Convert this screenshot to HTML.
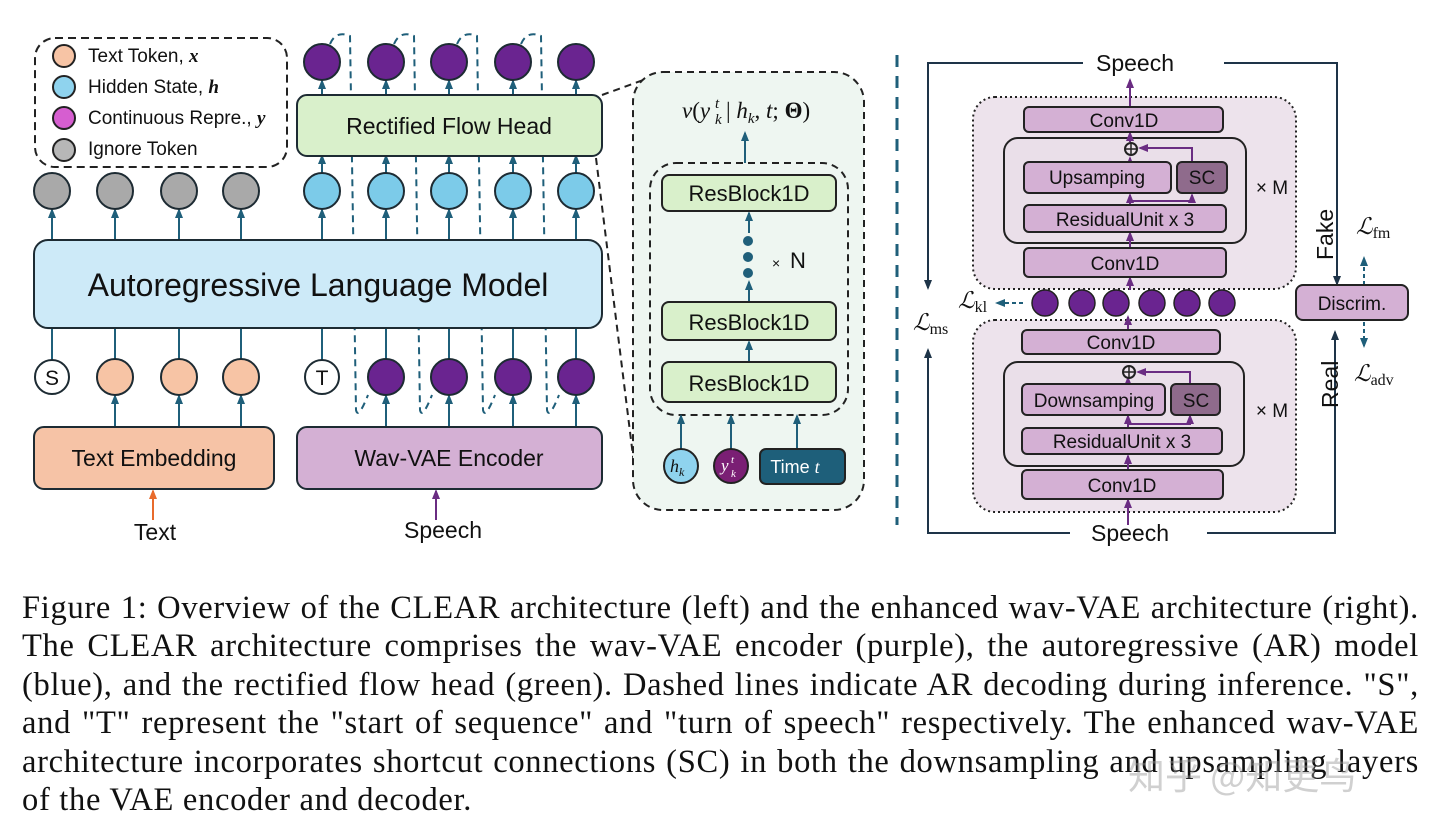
<!DOCTYPE html>
<html><head><meta charset="utf-8"><style>
html,body{margin:0;padding:0;background:#fff;width:1440px;height:836px;overflow:hidden}
svg{position:absolute;left:0;top:0}
.cap{position:absolute;left:22px;top:589px;width:1397px;font-family:"Liberation Serif",serif;font-size:32.5px;letter-spacing:0.7px;line-height:38.4px;color:#111}
.cap div{text-align:justify;text-align-last:justify;white-space:nowrap}
.cap div.l{text-align-last:left}
.wm{position:absolute;left:1128px;top:746px;font-family:"Noto Sans CJK SC","Liberation Sans",sans-serif;font-size:37px;color:rgba(150,150,150,0.45)}
</style></head><body>
<svg width="1440" height="580" viewBox="0 0 1440 580" font-family="Liberation Sans, sans-serif">
<defs>
<marker id="a" viewBox="0 0 10 10" refX="8" refY="5" markerWidth="5" markerHeight="5" orient="auto"><path d="M0,1 L10,5 L0,9z" fill="#1f5f7a"/></marker>
<marker id="p" viewBox="0 0 10 10" refX="8" refY="5" markerWidth="5" markerHeight="5" orient="auto"><path d="M0,1 L10,5 L0,9z" fill="#6a2c82"/></marker>
<marker id="k" viewBox="0 0 10 10" refX="8" refY="5" markerWidth="5" markerHeight="5" orient="auto"><path d="M0,1 L10,5 L0,9z" fill="#1e3448"/></marker>
<marker id="o" viewBox="0 0 10 10" refX="8" refY="5" markerWidth="5" markerHeight="5" orient="auto"><path d="M0,1 L10,5 L0,9z" fill="#e86b2c"/></marker>
</defs>
<rect x="35" y="38" width="252" height="129" rx="20" fill="none" stroke="#222" stroke-width="2" stroke-dasharray="8,5"/>
<g stroke="#222" stroke-width="2">
<circle cx="64" cy="56" r="11" fill="#f7c4a5"/><circle cx="64" cy="87" r="11" fill="#8fd3ee"/>
<circle cx="64" cy="118" r="11" fill="#d65ed0"/><circle cx="64" cy="150" r="11" fill="#b7b7b7"/></g>
<g font-size="19" fill="#111"><text x="88" y="62">Text Token, <tspan font-family="Liberation Serif" font-style="italic" font-weight="bold">x</tspan></text>
<text x="88" y="93">Hidden State, <tspan font-family="Liberation Serif" font-style="italic" font-weight="bold">h</tspan></text>
<text x="88" y="124">Continuous Repre., <tspan font-family="Liberation Serif" font-style="italic" font-weight="bold">y</tspan></text>
<text x="88" y="155">Ignore Token</text></g>
<g fill="none" stroke="#1f5f7a" stroke-width="2" stroke-dasharray="7,5">
<path d="M330,44 Q336,30 350,36 L356,410 Q358,420 368,395"/>
<path d="M394,44 Q400,30 414,36 L420,410 Q422,420 432,395"/>
<path d="M457,44 Q463,30 477,36 L483,410 Q485,420 495,395"/>
<path d="M521,44 Q527,30 541,36 L547,410 Q549,420 559,395"/>
</g>
<g stroke="#1f5f7a" stroke-width="2" marker-end="url(#a)">
<line x1="52" y1="240" x2="52" y2="210"/><line x1="115" y1="240" x2="115" y2="210"/><line x1="179" y1="240" x2="179" y2="210"/><line x1="241" y1="240" x2="241" y2="210"/>
<line x1="322" y1="240" x2="322" y2="210"/><line x1="386" y1="240" x2="386" y2="210"/><line x1="449" y1="240" x2="449" y2="210"/><line x1="513" y1="240" x2="513" y2="210"/><line x1="576" y1="240" x2="576" y2="210"/>
<line x1="322" y1="173" x2="322" y2="156"/><line x1="386" y1="173" x2="386" y2="156"/><line x1="449" y1="173" x2="449" y2="156"/><line x1="513" y1="173" x2="513" y2="156"/><line x1="576" y1="173" x2="576" y2="156"/>
<line x1="322" y1="95" x2="322" y2="81"/><line x1="386" y1="95" x2="386" y2="81"/><line x1="449" y1="95" x2="449" y2="81"/><line x1="513" y1="95" x2="513" y2="81"/><line x1="576" y1="95" x2="576" y2="81"/>
<line x1="115" y1="427" x2="115" y2="396"/><line x1="179" y1="427" x2="179" y2="396"/><line x1="241" y1="427" x2="241" y2="396"/>
<line x1="386" y1="427" x2="386" y2="396"/><line x1="449" y1="427" x2="449" y2="396"/><line x1="513" y1="427" x2="513" y2="396"/><line x1="576" y1="427" x2="576" y2="396"/>
</g>
<g stroke="#1f5f7a" stroke-width="2"><line x1="52" y1="328" x2="52" y2="360"/><line x1="115" y1="328" x2="115" y2="360"/><line x1="179" y1="328" x2="179" y2="360"/><line x1="241" y1="328" x2="241" y2="360"/><line x1="322" y1="328" x2="322" y2="360"/><line x1="386" y1="328" x2="386" y2="360"/><line x1="449" y1="328" x2="449" y2="360"/><line x1="513" y1="328" x2="513" y2="360"/><line x1="576" y1="328" x2="576" y2="360"/></g>
<line x1="153" y1="520" x2="153" y2="491" stroke="#e86b2c" stroke-width="2" marker-end="url(#o)"/>
<line x1="436" y1="520" x2="436" y2="491" stroke="#6a2c82" stroke-width="2" marker-end="url(#p)"/>
<g stroke="#1d2b33" stroke-width="2">
<circle cx="322" cy="62" r="18" fill="#6a2490"/><circle cx="386" cy="62" r="18" fill="#6a2490"/><circle cx="449" cy="62" r="18" fill="#6a2490"/><circle cx="513" cy="62" r="18" fill="#6a2490"/><circle cx="576" cy="62" r="18" fill="#6a2490"/>
<rect x="297" y="95" width="305" height="61" rx="10" fill="#d9f0cb"/>
<circle cx="52" cy="191" r="18" fill="#a9a9a9"/><circle cx="115" cy="191" r="18" fill="#a9a9a9"/><circle cx="179" cy="191" r="18" fill="#a9a9a9"/><circle cx="241" cy="191" r="18" fill="#a9a9a9"/>
<circle cx="322" cy="191" r="18" fill="#7ccbe9"/><circle cx="386" cy="191" r="18" fill="#7ccbe9"/><circle cx="449" cy="191" r="18" fill="#7ccbe9"/><circle cx="513" cy="191" r="18" fill="#7ccbe9"/><circle cx="576" cy="191" r="18" fill="#7ccbe9"/>
<rect x="34" y="240" width="568" height="88" rx="14" fill="#cdeaf8"/>
<circle cx="52" cy="377" r="17" fill="#fff"/><circle cx="115" cy="377" r="18" fill="#f7c4a5"/><circle cx="179" cy="377" r="18" fill="#f7c4a5"/><circle cx="241" cy="377" r="18" fill="#f7c4a5"/>
<circle cx="322" cy="377" r="17" fill="#fff"/><circle cx="386" cy="377" r="18" fill="#6a2490"/><circle cx="449" cy="377" r="18" fill="#6a2490"/><circle cx="513" cy="377" r="18" fill="#6a2490"/><circle cx="576" cy="377" r="18" fill="#6a2490"/>
<rect x="34" y="427" width="240" height="62" rx="10" fill="#f6c3a6"/>
<rect x="297" y="427" width="305" height="62" rx="10" fill="#d4b0d4"/>
</g>
<g fill="#111" text-anchor="middle">
<text x="449" y="134" font-size="23">Rectified Flow Head</text>
<text x="318" y="296" font-size="32">Autoregressive Language Model</text>
<text x="52" y="385" font-size="21">S</text><text x="322" y="385" font-size="21">T</text>
<text x="154" y="466" font-size="23">Text Embedding</text>
<text x="449" y="466" font-size="23">Wav-VAE Encoder</text>
<text x="155" y="540" font-size="23">Text</text><text x="443" y="538" font-size="23">Speech</text>
</g>
<g fill="none" stroke="#222" stroke-width="2" stroke-dasharray="7,5"><path d="M602,95 L660,74"/><path d="M596,158 L636,480"/></g>
<rect x="633" y="72" width="231" height="438" rx="30" fill="#eef6f1" stroke="#222" stroke-width="2" stroke-dasharray="7,5"/>
<rect x="650" y="163" width="198" height="252" rx="26" fill="none" stroke="#222" stroke-width="2" stroke-dasharray="7,5"/>
<g stroke="#1f5f7a" stroke-width="2" marker-end="url(#a)">
<line x1="745" y1="163" x2="745" y2="133"/><line x1="749" y1="302" x2="749" y2="282"/><line x1="749" y1="362" x2="749" y2="342"/><line x1="749" y1="233" x2="749" y2="213"/>
<line x1="681" y1="449" x2="681" y2="416"/><line x1="731" y1="449" x2="731" y2="416"/><line x1="797" y1="449" x2="797" y2="416"/>
</g>
<g stroke="#222" stroke-width="2" fill="#d9f0cb">
<rect x="662" y="175" width="174" height="36" rx="7"/><rect x="662" y="302" width="174" height="38" rx="7"/><rect x="662" y="362" width="174" height="40" rx="7"/>
<circle cx="681" cy="466" r="17" fill="#8fd3ee"/><circle cx="731" cy="466" r="17" fill="#7a1f74"/>
<rect x="760" y="449" width="85" height="35" rx="6" fill="#1e5f7a"/></g>
<g fill="#1f5f7a"><circle cx="748" cy="241" r="5"/><circle cx="748" cy="257" r="5"/><circle cx="748" cy="273" r="5"/></g>
<g text-anchor="middle" fill="#111" font-size="22"><text x="749" y="201">ResBlock1D</text><text x="749" y="330">ResBlock1D</text><text x="749" y="391">ResBlock1D</text></g>
<text x="772" y="268" font-size="14" fill="#111">×</text><text x="790" y="268" font-size="22" fill="#111">N</text>
<g font-family="Liberation Serif, serif" fill="#111" font-size="23">
<text x="682" y="118" font-style="italic">v<tspan font-style="normal">(</tspan>y</text>
<text x="715" y="108" font-size="15" font-style="italic">t</text>
<text x="715" y="124" font-size="15" font-style="italic">k</text>
<text x="726" y="118">| <tspan font-style="italic">h</tspan><tspan font-size="15" dy="5" font-style="italic">k</tspan><tspan dy="-5">, </tspan><tspan font-style="italic">t</tspan>; <tspan font-weight="bold">Θ</tspan>)</text>
<text x="670" y="472" font-size="18" font-style="italic">h<tspan font-size="12" dy="4">k</tspan></text>
<text x="721" y="471" font-size="17" font-style="italic" fill="#fff">y</text>
<text x="731" y="463" font-size="11" font-style="italic" fill="#fff">t</text>
<text x="731" y="477" font-size="11" font-style="italic" fill="#fff">k</text>
</g>
<text x="795" y="473" font-size="18" fill="#fff" text-anchor="middle">Time <tspan font-family="Liberation Serif, serif" font-style="italic">t</tspan></text>
<line x1="897" y1="55" x2="897" y2="525" stroke="#1f5f7a" stroke-width="3" stroke-dasharray="12,9"/>
<g fill="none" stroke="#1e3448" stroke-width="2">
<path d="M1083,63 L928,63 L928,288" marker-end="url(#k)"/>
<path d="M1224,63 L1337,63 L1337,284" marker-end="url(#k)"/>
<path d="M1070,533 L928,533 L928,350" marker-end="url(#k)"/>
<path d="M1207,533 L1335,533 L1335,332" marker-end="url(#k)"/>
</g>
<g stroke="#1f5f7a" stroke-width="2" stroke-dasharray="4,3" marker-end="url(#a)"><line x1="1023" y1="303" x2="997" y2="303"/><line x1="1364" y1="285" x2="1364" y2="258"/><line x1="1364" y1="322" x2="1364" y2="346"/></g>
<rect x="973" y="97" width="323" height="192" rx="22" fill="#ede3ec" stroke="#222" stroke-width="2" stroke-dasharray="2,3"/>
<rect x="973" y="320" width="323" height="192" rx="22" fill="#ede3ec" stroke="#222" stroke-width="2" stroke-dasharray="2,3"/>
<g stroke="#222" stroke-width="2">
<rect x="1004" y="138" width="242" height="105" rx="14" fill="#eadfe9"/>
<rect x="1004" y="362" width="240" height="104" rx="14" fill="#eadfe9"/>
</g>
<g stroke="#6a2c82" stroke-width="2" marker-end="url(#p)">
<line x1="1130" y1="107" x2="1130" y2="80"/><line x1="1130" y1="142" x2="1130" y2="133"/><line x1="1130" y1="162" x2="1130" y2="158"/><line x1="1130" y1="205" x2="1130" y2="195"/><line x1="1130" y1="248" x2="1130" y2="233"/><line x1="1130" y1="290" x2="1130" y2="278"/>
<line x1="1128" y1="330" x2="1128" y2="317"/><line x1="1128" y1="384" x2="1128" y2="378"/><line x1="1128" y1="428" x2="1128" y2="416"/><line x1="1128" y1="470" x2="1128" y2="456"/><line x1="1128" y1="525" x2="1128" y2="500"/>
</g>
<g fill="none" stroke="#6a2c82" stroke-width="2"><path d="M1130,201 L1192,201 L1192,195" marker-end="url(#p)"/><path d="M1192,162 L1192,148 L1140,148" marker-end="url(#p)"/>
<path d="M1128,424 L1190,424 L1190,416" marker-end="url(#p)"/><path d="M1190,384 L1190,372 L1138,372" marker-end="url(#p)"/></g>
<g stroke="#222" stroke-width="2" fill="#d4b0d4">
<rect x="1024" y="107" width="199" height="25" rx="5"/>
<rect x="1024" y="162" width="147" height="31" rx="5"/><rect x="1177" y="162" width="50" height="31" rx="5" fill="#8f6b8c"/>
<rect x="1024" y="205" width="202" height="27" rx="5"/>
<rect x="1024" y="248" width="202" height="29" rx="5"/>
<rect x="1022" y="330" width="198" height="24" rx="5"/>
<rect x="1022" y="384" width="143" height="31" rx="5"/><rect x="1171" y="384" width="49" height="31" rx="5" fill="#8f6b8c"/>
<rect x="1022" y="428" width="200" height="26" rx="5"/>
<rect x="1022" y="470" width="201" height="29" rx="5"/>
<rect x="1296" y="285" width="112" height="35" rx="7"/>
<circle cx="1131" cy="149" r="6" fill="#ede3ec"/><circle cx="1129" cy="372" r="6" fill="#ede3ec"/>
</g>
<g stroke="#222" stroke-width="1.5"><line x1="1125" y1="149" x2="1137" y2="149"/><line x1="1131" y1="143" x2="1131" y2="155"/><line x1="1123" y1="372" x2="1135" y2="372"/><line x1="1129" y1="366" x2="1129" y2="378"/></g>
<g fill="#6a2490" stroke="#222" stroke-width="1.5">
<circle cx="1045" cy="303" r="13"/><circle cx="1082" cy="303" r="13"/><circle cx="1116" cy="303" r="13"/><circle cx="1152" cy="303" r="13"/><circle cx="1187" cy="303" r="13"/><circle cx="1222" cy="303" r="13"/></g>
<g fill="#111" text-anchor="middle" font-size="19">
<text x="1124" y="127">Conv1D</text><text x="1097" y="184">Upsamping</text><text x="1202" y="184">SC</text>
<text x="1125" y="226">ResidualUnit x 3</text><text x="1125" y="270">Conv1D</text>
<text x="1121" y="349">Conv1D</text><text x="1094" y="407">Downsamping</text><text x="1196" y="407">SC</text>
<text x="1122" y="448">ResidualUnit x 3</text><text x="1122" y="492">Conv1D</text>
<text x="1352" y="310">Discrim.</text>
<text x="1272" y="194">× M</text><text x="1272" y="417">× M</text>
<text x="1135" y="71" font-size="23">Speech</text><text x="1130" y="541" font-size="23">Speech</text>
</g>
<text font-size="23" fill="#111" transform="translate(1333,260) rotate(-90)">Fake</text>
<text font-size="23" fill="#111" transform="translate(1338,408) rotate(-90)">Real</text>
<g font-family="Liberation Serif, serif" fill="#111"><text x="958" y="308" font-size="23" font-style="italic">ℒ<tspan font-style="normal" font-size="16" dy="4">kl</tspan></text>
<text x="913" y="330" font-size="23" font-style="italic">ℒ<tspan font-style="normal" font-size="16" dy="4">ms</tspan></text>
<text x="1356" y="234" font-size="23" font-style="italic">ℒ<tspan font-style="normal" font-size="16" dy="4">fm</tspan></text>
<text x="1354" y="381" font-size="23" font-style="italic">ℒ<tspan font-style="normal" font-size="16" dy="4">adv</tspan></text></g>
</svg>
<div class="cap">
<div>Figure 1: Overview of the CLEAR architecture (left) and the enhanced wav-VAE architecture (right).</div>
<div>The CLEAR architecture comprises the wav-VAE encoder (purple), the autoregressive (AR) model</div>
<div>(blue), and the rectified flow head (green). Dashed lines indicate AR decoding during inference. "S",</div>
<div>and "T" represent the "start of sequence" and "turn of speech" respectively. The enhanced wav-VAE</div>
<div>architecture incorporates shortcut connections (SC) in both the downsampling and upsampling layers</div>
<div class="l">of the VAE encoder and decoder.</div>
</div>
<div class="wm">知乎 @知更鸟</div>
</body></html>
